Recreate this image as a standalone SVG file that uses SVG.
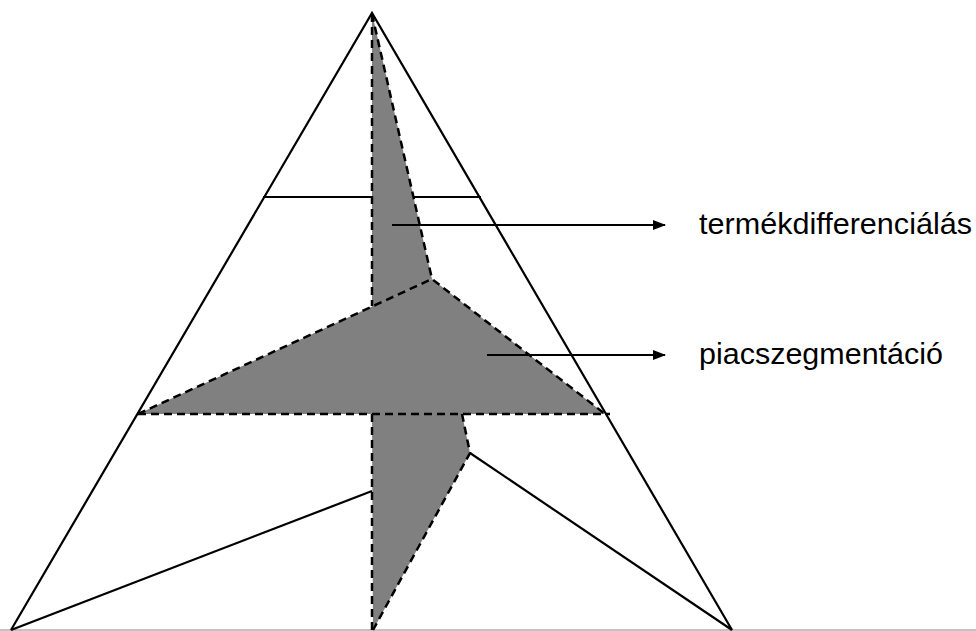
<svg xmlns="http://www.w3.org/2000/svg" width="976" height="631" viewBox="0 0 976 631">
<defs>
<style>
.ln{stroke:#000;stroke-width:2.2;fill:none}
.ds{stroke:#000;stroke-width:2.5;fill:none;stroke-dasharray:8,5}
.gr{fill:#808080;stroke:none}
.lbl{font-family:"Liberation Sans",Arial,sans-serif;font-size:30px;fill:#000}
</style>
<marker id="ah" markerWidth="13" markerHeight="10" refX="12" refY="5" orient="auto" markerUnits="userSpaceOnUse">
<path d="M0,0 L13,5 L0,10 Z" fill="#000"/>
</marker>
</defs>
<rect width="976" height="631" fill="#fff"/>
<g id="pyramid">
<line x1="0" y1="630" x2="976" y2="630" stroke="#888" stroke-width="1"/>
<polyline class="ln" points="11,630 372,13 732,630"/>
<line class="ln" x1="263" y1="197" x2="481" y2="197"/>
<line class="ln" x1="11" y1="630" x2="372" y2="491"/>
<line class="ln" x1="470" y1="453" x2="732" y2="630"/>
</g>
<g id="shaded">
<polygon class="gr" points="372,13 432,279 372,307"/>
<polygon class="gr" points="138,414 432,279 605,414"/>
<polygon class="gr" points="372,414 462,414 470,453 373,630"/>
<line class="ds" x1="372" y1="14" x2="372" y2="306"/>
<line class="ds" x1="372" y1="14" x2="432" y2="279"/>
<polyline class="ds" points="138,414 432,279 605,414"/>
<line class="ds" x1="138" y1="414" x2="610" y2="414"/>
<polyline class="ds" points="462,414 470,453 373,630"/>
<line class="ds" x1="372" y1="414" x2="372" y2="630"/>
</g>
<g id="connectors">
<line class="ln" x1="392" y1="225" x2="665" y2="225" marker-end="url(#ah)"/>
<line class="ln" x1="487" y1="355" x2="665" y2="355" marker-end="url(#ah)"/>
</g>
<g id="label1"><text class="lbl" x="699" y="234" textLength="273" lengthAdjust="spacingAndGlyphs">termékdifferenciálás</text></g>
<g id="label2"><text class="lbl" x="699" y="364" textLength="244" lengthAdjust="spacingAndGlyphs">piacszegmentáció</text></g>
</svg>
